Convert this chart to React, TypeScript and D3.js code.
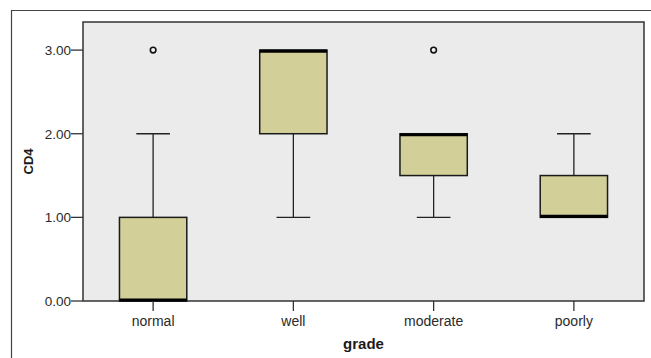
import { useEffect, useRef } from "react";
import * as d3 from "d3";

const categories = ["normal", "well", "moderate", "poorly"];
const whiskerLow = [0, 1, 1, 1];
const q1Values = [0, 2, 1.5, 1];
const medianValues = [0, 3, 2, 1];
const q3Values = [1, 3, 2, 1.5];
const whiskerHigh = [2, 3, 2, 2];
const outliers: { cat: string; value: number }[] = [
  { cat: "normal", value: 3 },
  { cat: "moderate", value: 3 },
];
const yTicks = [0, 1, 2, 3];

const App: React.FC = () => {
  const svgRef = useRef<SVGSVGElement>(null);

  useEffect(() => {
    if (!svgRef.current) return;
    const width = 651;
    const height = 358;
    const plot = { left: 83, top: 22, right: 644, bottom: 301 };

    const svg = d3.select(svgRef.current);
    svg.selectAll("*").remove();

    const x = d3
      .scaleBand<string>()
      .domain(categories)
      .range([plot.left, plot.right]);
    const y = d3
      .scaleLinear()
      .domain([0, 3.336])
      .range([plot.bottom, plot.top]);

    // outer frame
    svg
      .append("path")
      .attr("d", `M11.5,${height} V10.5 H${width}`)
      .attr("fill", "none")
      .attr("stroke", "#444")
      .attr("stroke-width", 1.2);

    svg
      .append("rect")
      .attr("x", plot.left)
      .attr("y", plot.top)
      .attr("width", plot.right - plot.left)
      .attr("height", plot.bottom - plot.top)
      .attr("fill", "#ebebeb")
      .attr("stroke", "#333")
      .attr("stroke-width", 1.5);

    const boxW = x.bandwidth() * 0.48;
    const capW = boxW / 2;

    const data = categories.map((c, i) => ({
      cat: c,
      lo: whiskerLow[i],
      q1: q1Values[i],
      med: medianValues[i],
      q3: q3Values[i],
      hi: whiskerHigh[i],
    }));

    const g = svg
      .selectAll("g.box")
      .data(data)
      .join("g")
      .attr("class", "box")
      .attr("transform", (d) => `translate(${x(d.cat)! + x.bandwidth() / 2},0)`);

    // whiskers
    g.append("line")
      .attr("x1", 0)
      .attr("x2", 0)
      .attr("y1", (d) => y(d.hi))
      .attr("y2", (d) => y(d.q3))
      .attr("stroke", "#222")
      .attr("stroke-width", 1.3);
    g.append("line")
      .attr("x1", 0)
      .attr("x2", 0)
      .attr("y1", (d) => y(d.q1))
      .attr("y2", (d) => y(d.lo))
      .attr("stroke", "#222")
      .attr("stroke-width", 1.3);
    g.filter((d) => d.hi > d.q3)
      .append("line")
      .attr("x1", -capW / 2)
      .attr("x2", capW / 2)
      .attr("y1", (d) => y(d.hi))
      .attr("y2", (d) => y(d.hi))
      .attr("stroke", "#222")
      .attr("stroke-width", 1.3);
    g.filter((d) => d.lo < d.q1)
      .append("line")
      .attr("x1", -capW / 2)
      .attr("x2", capW / 2)
      .attr("y1", (d) => y(d.lo))
      .attr("y2", (d) => y(d.lo))
      .attr("stroke", "#222")
      .attr("stroke-width", 1.3);

    g.append("rect")
      .attr("x", -boxW / 2)
      .attr("width", boxW)
      .attr("y", (d) => y(d.q3))
      .attr("height", (d) => y(d.q1) - y(d.q3))
      .attr("fill", "#d2cf98")
      .attr("stroke", "#1a1a1a")
      .attr("stroke-width", 1.5);

    g.append("line")
      .attr("x1", -boxW / 2)
      .attr("x2", boxW / 2)
      .attr("y1", (d) => y(d.med) + (d.med === d.q3 ? 1 : d.med === d.q1 ? -1 : 0))
      .attr("y2", (d) => y(d.med) + (d.med === d.q3 ? 1 : d.med === d.q1 ? -1 : 0))
      .attr("stroke", "#000")
      .attr("stroke-width", 3.2);

    svg
      .selectAll("circle.out")
      .data(outliers)
      .join("circle")
      .attr("class", "out")
      .attr("cx", (d) => x(d.cat)! + x.bandwidth() / 2)
      .attr("cy", (d) => y(d.value))
      .attr("r", 2.8)
      .attr("fill", "#f4f4f4")
      .attr("stroke", "#111")
      .attr("stroke-width", 1.6);

    const font = "'Liberation Sans', Arial, sans-serif";

    // y axis ticks
    const yAxis = svg.append("g");
    yAxis
      .selectAll("line")
      .data(yTicks)
      .join("line")
      .attr("x1", plot.left - 12)
      .attr("x2", plot.left)
      .attr("y1", (d) => y(d))
      .attr("y2", (d) => y(d))
      .attr("stroke", "#333")
      .attr("stroke-width", 1.3);
    yAxis
      .selectAll("text")
      .data(yTicks)
      .join("text")
      .attr("x", plot.left - 12)
      .attr("y", (d) => y(d))
      .attr("dy", "0.36em")
      .attr("text-anchor", "end")
      .style("font", `13.5px ${font}`)
      .attr("fill", "#2a2a2a")
      .text((d) => d3.format(".2f")(d));

    // x axis ticks
    const xAxis = svg.append("g");
    xAxis
      .selectAll("line")
      .data(categories)
      .join("line")
      .attr("x1", (d) => x(d)! + x.bandwidth() / 2)
      .attr("x2", (d) => x(d)! + x.bandwidth() / 2)
      .attr("y1", plot.bottom)
      .attr("y2", plot.bottom + 10)
      .attr("stroke", "#333")
      .attr("stroke-width", 1.3);
    xAxis
      .selectAll("text")
      .data(categories)
      .join("text")
      .attr("x", (d) => x(d)! + x.bandwidth() / 2)
      .attr("y", 326)
      .attr("text-anchor", "middle")
      .style("font", `14px ${font}`)
      .attr("fill", "#2a2a2a")
      .text((d) => d);

    svg
      .append("text")
      .attr("x", (plot.left + plot.right) / 2)
      .attr("y", 349)
      .attr("text-anchor", "middle")
      .style("font", `bold 15px ${font}`)
      .attr("fill", "#1a1a1a")
      .text("grade");

    svg
      .append("text")
      .attr("transform", `translate(33,${(plot.top + plot.bottom) / 2}) rotate(-90)`)
      .attr("text-anchor", "middle")
      .style("font", `bold 13px ${font}`)
      .attr("fill", "#1a1a1a")
      .text("CD4");
  }, []);

  return (
    <svg
      ref={svgRef}
      width={651}
      height={358}
      style={{ position: "absolute", left: 0, top: 0, background: "#fff" }}
    />
  );
};

export default App;
